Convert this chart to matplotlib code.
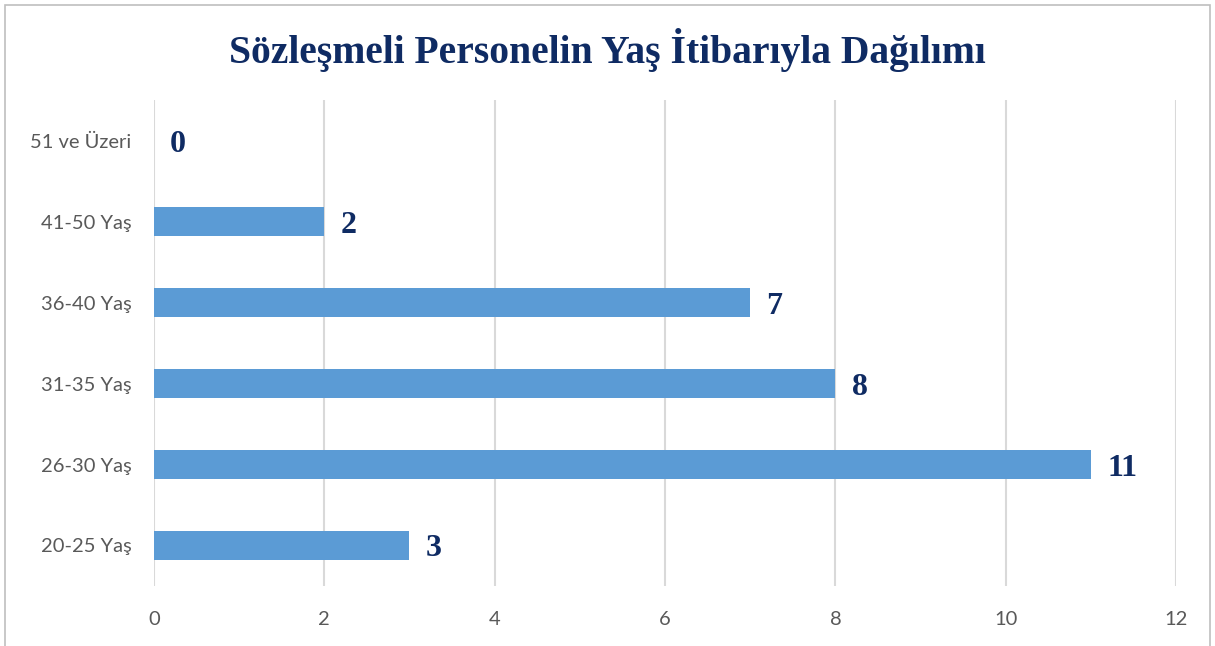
import matplotlib
matplotlib.use('Agg')
import matplotlib.pyplot as plt
from matplotlib.patches import Rectangle

categories = ['20-25 Yaş', '26-30 Yaş', '31-35 Yaş', '36-40 Yaş', '41-50 Yaş', '51 ve Üzeri']
values = [3, 11, 8, 7, 2, 0]
xticks = [0, 2, 4, 6, 8, 10, 12]
title = 'Sözleşmeli Personelin Yaş İtibarıyla Dağılımı'

navy = '#0F2B63'
fig = plt.figure(figsize=(12.15, 6.46), dpi=100)
ax = fig.add_axes([0.1267, 0.0929, 0.8413, 0.7521])

ypos = range(len(categories))
ax.barh(ypos, values, height=0.36, color='#5B9BD5', zorder=3)

for y, v in zip(ypos, values):
    ax.text(v + 0.19, y, str(v), va='center_baseline', ha='left', fontsize=23, fontweight='bold',
            family='Liberation Serif', color=navy, zorder=4)

ax.set_xlim(0, 12)
ax.set_ylim(-0.5, 5.5)
ax.set_xticks(xticks)
ax.set_yticks(list(ypos))
ax.set_yticklabels(categories)
ax.grid(axis='x', color='#D9D9D9', linewidth=1.5, zorder=0)
for s in ax.spines.values():
    s.set_visible(False)
ax.tick_params(length=0, labelsize=14.5, colors='#595959')
ax.tick_params(axis='y', pad=16)
ax.tick_params(axis='x', pad=18)
for lab in ax.get_xticklabels() + ax.get_yticklabels():
    lab.set_family('Lato')

fig.text(0.5, 0.923, title, ha='center', va='center', fontsize=28.5, fontweight='bold',
         family='Liberation Serif', color=navy)

fig.patches.append(Rectangle((0.004, -0.01), 0.992, 1.002, transform=fig.transFigure,
                             fill=False, edgecolor='#BFBFBF', linewidth=1.2))

fig.savefig('out.png', dpi=100)
